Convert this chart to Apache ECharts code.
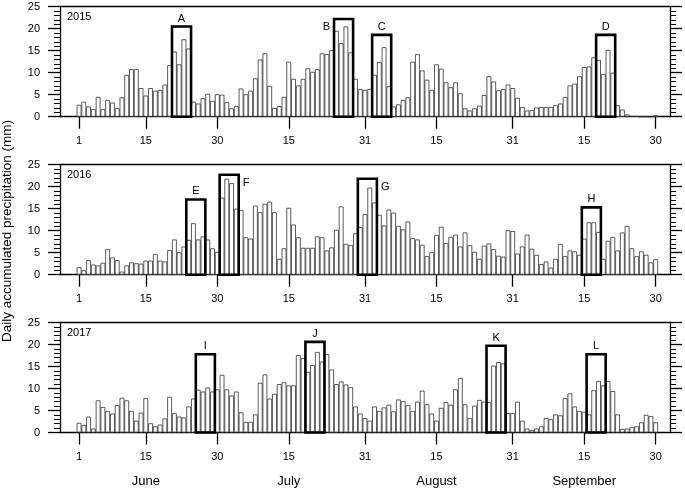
<!DOCTYPE html>
<html><head><meta charset="utf-8">
<script src="https://cdn.jsdelivr.net/npm/echarts@6/dist/echarts.min.js"></script>
<style>html,body{margin:0;padding:0;background:#fff}#c{width:685px;height:490px}</style>
</head><body><div id="c"></div>
<script>
// Day index 0..121 = 1 June .. 30 September
const dayIndex = Array.from({length: 122}, (_, i) => i);
const tickIdx = [0, 14, 29, 44, 60, 75, 91, 106, 121];
const tickLabels = ['1', '15', '30', '15', '31', '15', '31', '15', '30'];
const monthNames = ['June', 'July', 'August', 'September'];
const monthCenterIdx = [14, 44, 75, 106];
const years = ['2015', '2016', '2017'];

const precip2015 = [2.7,3.4,2.3,1.7,4.5,1.7,3.8,3.2,1.9,4.4,9.5,10.8,10.8,6.5,4.8,6.5,5.9,6.1,7.3,11.7,
14.8,11.9,17.6,15.5,3.4,3.0,4.2,5.2,3.6,5.1,5.0,3.3,1.9,2.4,6.4,5.1,5.9,8.7,13.0,14.4,
7.0,2.0,2.4,4.5,12.5,8.6,7.1,8.6,11.0,10.2,10.8,14.4,14.2,15.1,19.5,16.7,20.5,14.6,8.6,6.3,
6.1,6.3,9.5,12.4,15.8,6.9,2.3,2.8,3.8,4.4,12.5,14.2,10.5,8.4,6.1,11.9,10.9,7.8,6.7,7.8,
5.3,1.9,1.4,1.9,2.5,4.9,9.2,8.0,6.0,6.3,7.3,6.5,4.3,2.2,1.4,1.5,2.1,2.2,2.2,2.2,
2.6,3.0,4.5,7.1,7.5,9.2,11.3,11.4,13.5,12.9,9.7,15.2,10.0,2.6,1.6,0.5,0.1,0.1,0,0,
0,0.3];
const precip2016 = [1.7,1.0,3.3,2.3,2.1,2.7,5.8,3.9,3.3,0.7,2.1,2.8,2.6,2.5,3.2,3.2,4.7,3.2,3.0,5.6,
8.0,5.1,6.4,7.9,11.7,8.0,8.7,8.0,6.0,5.2,17.5,21.8,20.8,15.0,14.7,8.5,8.2,15.7,14.2,16.1,
16.6,14.2,3.6,6.0,15.2,11.4,8.5,6.1,6.1,6.1,8.7,8.5,5.5,6.2,10.2,15.5,7.0,6.7,9.4,10.8,
13.8,19.8,16.4,13.6,11.2,14.8,14.1,11.1,10.3,12.1,8.3,8.0,6.8,4.2,5.1,9.0,10.9,7.2,8.6,9.1,
6.4,9.6,6.7,5.2,3.6,6.6,7.1,5.8,4.3,4.1,10.1,9.9,4.8,6.4,9.1,5.9,4.5,2.4,3.0,1.6,
3.6,7.0,4.2,5.5,5.3,4.5,8.2,11.9,11.9,9.7,3.6,7.7,8.6,5.5,9.6,11.1,6.0,4.2,5.3,4.5,
2.8,3.5];
const precip2017 = [2.2,1.7,3.6,0.9,7.3,5.8,4.9,4.3,6.2,7.9,7.3,4.9,2.7,4.5,7.8,2.1,1.4,1.8,3.2,8.1,
4.4,3.6,3.4,5.9,7.7,9.7,9.3,10.2,9.3,9.8,13.1,9.8,8.4,9.3,4.6,2.4,2.4,4.1,11.3,13.2,
7.7,8.8,11.0,11.4,10.7,10.7,17.6,16.9,13.8,15.3,18.3,16.1,17.8,14.3,11.0,11.6,10.9,10.3,5.9,4.3,
3.3,2.7,5.9,4.9,5.7,6.3,4.8,7.5,7.1,6.2,4.9,7.0,9.5,6.4,4.3,2.7,5.6,6.9,6.3,9.8,
12.4,6.4,3.3,6.1,7.4,7.0,6.9,15.2,16.0,15.7,4.4,4.4,7.0,2.7,0.9,0.5,0.9,1.4,3.3,3.0,
4.1,3.9,7.8,8.9,5.9,4.9,4.7,4.1,9.6,11.7,10.7,11.7,9.4,4.1,0.8,0.9,1.2,1.4,2.3,4.0,
3.7,2.3];

const boxLabels2015 = ['A', 'B', 'C', 'D'];
const boxStart2015 = [20, 54, 62, 109];
const boxEnd2015 = [23, 57, 65, 112];
const boxTop2015 = [20.5, 22.2, 18.6, 18.6];

const boxLabels2016 = ['E', 'F', 'G', 'H'];
const boxStart2016 = [23, 30, 59, 106];
const boxEnd2016 = [26, 33, 62, 109];
const boxTop2016 = [17.1, 22.7, 21.8, 15.3];

const boxLabels2017 = ['I', 'J', 'K', 'L'];
const boxStart2017 = [25, 48, 86, 107];
const boxEnd2017 = [28, 51, 89, 110];
const boxTop2017 = [17.8, 20.6, 19.7, 17.8];

const precipAll = [precip2015, precip2016, precip2017];
const boxLabelsAll = [boxLabels2015, boxLabels2016, boxLabels2017];
const boxStartAll = [boxStart2015, boxStart2016, boxStart2017];
const boxEndAll = [boxEnd2015, boxEnd2016, boxEnd2017];
const boxTopAll = [boxTop2015, boxTop2016, boxTop2017];

// label placement (style only)
const labelSide = {B: 'left', F: 'right', G: 'right'};

const FONT = '"Liberation Sans", Arial, Helvetica, sans-serif';
const gridTops = [6.7, 164.7, 322.5];
const gridH = 110;

const chart = echarts.init(document.getElementById('c'), null, {renderer: 'canvas'});

const grids = [], xAxes = [], yAxes = [], series = [];
for (let g = 0; g < 3; g++) {
  grids.push({left: 60, width: 610, top: gridTops[g], height: gridH, show: false});
  xAxes.push({
    type: 'value', gridIndex: g, min: -4, max: 124, position: 'bottom',
    axisLine: {show: true, onZero: false, lineStyle: {color: '#000', width: 1.3}},
    axisTick: {show: true, customValues: tickIdx, length: 12, inside: false, lineStyle: {color: '#000', width: 1.3}},
    axisLabel: {show: true, customValues: tickIdx, margin: 19, fontSize: 11, fontFamily: FONT, color: '#000',
      formatter: v => { const k = tickIdx.indexOf(Math.round(v)); return k >= 0 ? tickLabels[k] : ''; }},
    splitLine: {show: false}
  });
  xAxes.push({
    type: 'value', gridIndex: g, min: -4, max: 124, position: 'top',
    axisLine: {show: true, onZero: false, lineStyle: {color: '#000', width: 1.3}},
    axisTick: {show: false}, axisLabel: {show: false}, splitLine: {show: false}
  });
  const yBase = {
    type: 'value', gridIndex: g, min: 0, max: 25, interval: 5,
    axisLine: {show: true, onZero: false, lineStyle: {color: '#000', width: 1.3}},
    axisTick: {show: true, inside: false, length: 12, lineStyle: {color: '#000', width: 1.3}},
    minorTick: {show: true, splitNumber: 5, length: 6, lineStyle: {color: '#000', width: 1}},
    splitLine: {show: false}
  };
  yAxes.push(Object.assign({}, yBase, {position: 'left',
    axisLabel: {show: true, margin: 20, fontSize: 11, fontFamily: FONT, color: '#000'}}));
  yAxes.push(Object.assign({}, yBase, {position: 'right', axisLabel: {show: false}}));

  series.push({
    type: 'bar', xAxisIndex: g * 2, yAxisIndex: g * 2,
    barWidth: 4.77,
    itemStyle: {color: '#fff', borderColor: '#333', borderWidth: 0.8},
    data: dayIndex.map(i => [i, precipAll[g][i]]),
    animation: false, silent: true
  });

  const labs = boxLabelsAll[g];
  series.push({
    type: 'custom', xAxisIndex: g * 2, yAxisIndex: g * 2, clip: false,
    data: labs.map((l, k) => [boxStartAll[g][k], boxEndAll[g][k], boxTopAll[g][k]]),
    encode: {x: [0, 1], y: 2},
    renderItem: function (params, api) {
      const s = api.value(0), e = api.value(1), t = api.value(2);
      const p0 = api.coord([s - 0.5, 0]);
      const p1 = api.coord([e + 0.5, t]);
      const lab = labs[params.dataIndex];
      const side = labelSide[lab] || 'top';
      let tx, ty, align;
      if (side === 'top') { tx = (p0[0] + p1[0]) / 2; ty = p1[1] - 8; align = 'center'; }
      else if (side === 'left') { tx = p0[0] - 4; ty = p1[1] + 8; align = 'right'; }
      else { tx = p1[0] + 4; ty = p1[1] + 8; align = 'left'; }
      return {type: 'group', children: [
        {type: 'rect', shape: {x: p0[0], y: p1[1], width: p1[0] - p0[0], height: p0[1] - p1[1]},
          style: {fill: null, stroke: '#000', lineWidth: 2.6}},
        {type: 'text', x: tx, y: ty, style: {text: lab, align: align, verticalAlign: 'middle',
          font: '11px ' + FONT, fill: '#000'}}
      ]};
    },
    animation: false, silent: true, z: 5
  });
}

const graphics = [];
years.forEach((y, g) => {
  graphics.push({type: 'text', left: 67, top: gridTops[g] + 5,
    style: {text: y, font: '11px ' + FONT, fill: '#000'}});
});
graphics.push({type: 'text', x: 7, y: 231, rotation: Math.PI / 2,
  style: {text: 'Daily accumulated precipitation (mm)', font: '13.5px ' + FONT, fill: '#000',
    align: 'center', verticalAlign: 'middle'}});

chart.setOption({
  animation: false,
  backgroundColor: '#fff',
  grid: grids, xAxis: xAxes, yAxis: yAxes, series: series, graphic: graphics
});

const mg = monthNames.map((m, k) => {
  const px = chart.convertToPixel({xAxisIndex: 4}, monthCenterIdx[k]);
  return {type: 'text', x: px, y: 481,
    style: {text: m, font: '13px ' + FONT, fill: '#000', align: 'center', verticalAlign: 'middle'}};
});
chart.setOption({graphic: graphics.concat(mg)});
</script>
</body></html>
